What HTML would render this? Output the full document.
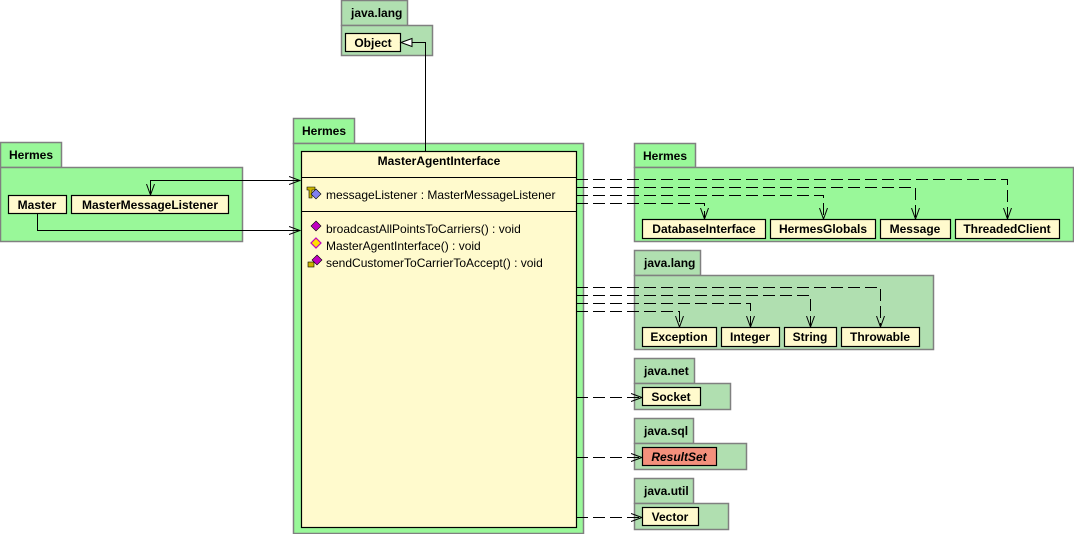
<!DOCTYPE html>
<html><head><meta charset="utf-8"><style>
body{margin:0;background:#fff}
text{font-family:"Liberation Sans",Arial,sans-serif;font-size:12px;fill:#000}
.b{font-weight:bold}
</style></head><body>
<svg width="1074" height="534" xmlns="http://www.w3.org/2000/svg">
<defs>
<marker id="oa" markerWidth="12" markerHeight="10" refX="11" refY="5" orient="auto" markerUnits="userSpaceOnUse"><path d="M0,1 L11,5 L0,9" fill="none" stroke="#000" stroke-width="1"/></marker>
</defs>
<g stroke="#808080" stroke-width="1.5">
<!-- top java.lang -->
<rect x="341.5" y="0.5" width="66" height="25" fill="#b0dfb0"/>
<rect x="341.5" y="25.5" width="91" height="30" fill="#b0dfb0"/>
<!-- left Hermes -->
<rect x="0.5" y="142.5" width="61" height="25" fill="#99f899"/>
<rect x="0.5" y="167.5" width="242" height="74" fill="#99f899"/>
<!-- center Hermes -->
<rect x="293.5" y="118.5" width="61" height="25" fill="#99f899"/>
<rect x="293.5" y="143.5" width="290" height="390" fill="#99f899"/>
<!-- right Hermes -->
<rect x="634.5" y="143.5" width="61" height="24" fill="#99f899"/>
<rect x="634.5" y="167.5" width="439" height="74" fill="#99f899"/>
<!-- java.lang right -->
<rect x="634.5" y="250.5" width="66" height="25" fill="#b0dfb0"/>
<rect x="634.5" y="275.5" width="299" height="74" fill="#b0dfb0"/>
<!-- java.net -->
<rect x="634.5" y="358.5" width="60" height="25" fill="#b0dfb0"/>
<rect x="634.5" y="383.5" width="96" height="26" fill="#b0dfb0"/>
<!-- java.sql -->
<rect x="634.5" y="418.5" width="59" height="25" fill="#b0dfb0"/>
<rect x="634.5" y="443.5" width="112" height="26" fill="#b0dfb0"/>
<!-- java.util -->
<rect x="634.5" y="478.5" width="59" height="25" fill="#b0dfb0"/>
<rect x="634.5" y="503.5" width="94" height="26" fill="#b0dfb0"/>
</g>
<g class="b">
<text x="351" y="17" class="b">java.lang</text>
<text x="9" y="159" class="b">Hermes</text>
<text x="302" y="135" class="b">Hermes</text>
<text x="643" y="160" class="b">Hermes</text>
<text x="644" y="267" class="b">java.lang</text>
<text x="644" y="375" class="b">java.net</text>
<text x="644" y="435" class="b">java.sql</text>
<text x="644" y="495" class="b">java.util</text>
</g>
<g stroke="#000" stroke-width="1.2" fill="#fffacd">
<rect x="345.5" y="33.5" width="55" height="18"/>
<rect x="8.5" y="195.5" width="58" height="18"/>
<rect x="71.5" y="195.5" width="157" height="18"/>
<rect x="301.5" y="151.5" width="275" height="376"/>
<rect x="642.5" y="219.5" width="123" height="19"/>
<rect x="770.5" y="219.5" width="105" height="19"/>
<rect x="880.5" y="219.5" width="70" height="19"/>
<rect x="955.5" y="219.5" width="104" height="19"/>
<rect x="642.5" y="327.5" width="74" height="19"/>
<rect x="721.5" y="327.5" width="58" height="19"/>
<rect x="784.5" y="327.5" width="52" height="19"/>
<rect x="841.5" y="327.5" width="78" height="19"/>
<rect x="642.5" y="387.5" width="58" height="18"/>
<rect x="642.5" y="447.5" width="74" height="18" fill="#f4907c"/>
<rect x="642.5" y="507.5" width="56" height="18"/>
</g>
<line x1="301" y1="177.5" x2="576" y2="177.5" stroke="#000"/>
<line x1="301" y1="211.5" x2="576" y2="211.5" stroke="#000"/>
<g class="b" text-anchor="middle">
<text x="373" y="47">Object</text>
<text x="37" y="209">Master</text>
<text x="150" y="209">MasterMessageListener</text>
<text x="439" y="165">MasterAgentInterface</text>
<text x="704" y="233">DatabaseInterface</text>
<text x="823" y="233">HermesGlobals</text>
<text x="915" y="233">Message</text>
<text x="1007" y="233">ThreadedClient</text>
<text x="679" y="341">Exception</text>
<text x="750" y="341">Integer</text>
<text x="810" y="341">String</text>
<text x="880" y="341">Throwable</text>
<text x="671" y="401">Socket</text>
<text x="679" y="461" font-style="italic">ResultSet</text>
<text x="670" y="521">Vector</text>
</g>
<text x="326" y="199">messageListener : MasterMessageListener</text>
<text x="326" y="233">broadcastAllPointsToCarriers() : void</text>
<text x="326" y="250">MasterAgentInterface() : void</text>
<text x="326" y="267">sendCustomerToCarrierToAccept() : void</text>
<!-- icons -->
<path d="M307,187 h8 v3 h-3 v8 h-3 v-8 h-2z" fill="#c8b400" stroke="#000" stroke-width="0.6"/>
<path d="M316,189 l5,5 l-5,5 l-5,-5z" fill="#8080f0" stroke="#000" stroke-width="0.6"/>
<path d="M316,221 l5,5 l-5,5 l-5,-5z" fill="#c000c0" stroke="#000" stroke-width="0.6"/>
<path d="M316,238 l5,5 l-5,5 l-5,-5z" fill="#ffe000" stroke="#c000c0" stroke-width="1.2"/>
<path d="M317,255 l5,5 l-5,5 l-5,-5z" fill="#c000c0" stroke="#000" stroke-width="0.6"/>
<rect x="308" y="262" width="6" height="5" fill="#c8b400" stroke="#000" stroke-width="0.6"/>
<!-- connectors -->
<g fill="none" stroke="#000" stroke-width="1">
<polyline points="425.5,151 425.5,42.5 401,42.5"/>
<path d="M401,42.5 L412,38.5 L412,46.5z" fill="#fff"/>
<polyline points="300,180.5 150.5,180.5 150.5,195" marker-end="url(#oa)"/>
<line x1="160" y1="180.5" x2="300" y2="180.5" marker-end="url(#oa)"/>
<polyline points="37.5,213 37.5,230.5 300,230.5" marker-end="url(#oa)"/>
</g>
<g fill="none" stroke="#000" stroke-width="1" stroke-dasharray="12,5">
<polyline points="576,179.5 1007.5,179.5 1007.5,219" marker-end="url(#oa)"/>
<polyline points="576,187.5 915.5,187.5 915.5,219" marker-end="url(#oa)"/>
<polyline points="576,195.5 823.5,195.5 823.5,219" marker-end="url(#oa)"/>
<polyline points="576,203.5 704.5,203.5 704.5,219" marker-end="url(#oa)"/>
<polyline points="576,287.5 880.5,287.5 880.5,327" marker-end="url(#oa)"/>
<polyline points="576,295.5 810.5,295.5 810.5,327" marker-end="url(#oa)"/>
<polyline points="576,303.5 750.5,303.5 750.5,327" marker-end="url(#oa)"/>
<polyline points="576,311.5 679.5,311.5 679.5,327" marker-end="url(#oa)"/>
<line x1="576" y1="397.5" x2="642" y2="397.5" marker-end="url(#oa)"/>
<line x1="576" y1="457.5" x2="642" y2="457.5" marker-end="url(#oa)"/>
<line x1="576" y1="517.5" x2="642" y2="517.5" marker-end="url(#oa)"/>
</g>
</svg>
</body></html>
